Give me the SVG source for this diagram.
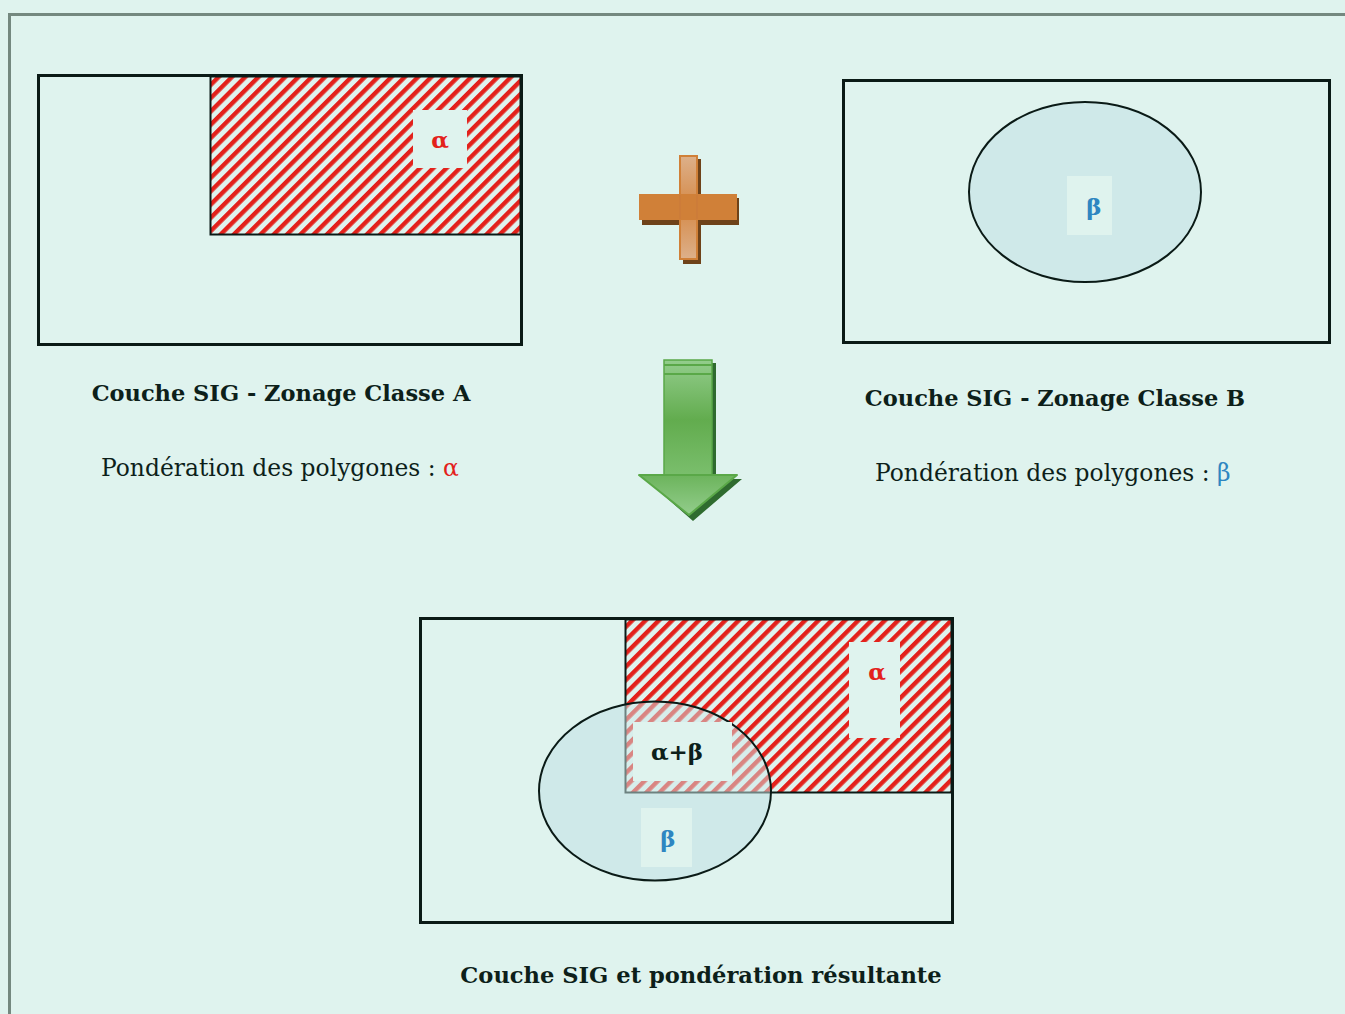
<svg xmlns="http://www.w3.org/2000/svg" width="1345" height="1014" viewBox="0 0 1345 1014">
<defs>
<pattern id="hatch" patternUnits="userSpaceOnUse" width="9.4" height="9.4" patternTransform="rotate(45)">
<rect width="9.4" height="9.4" fill="#dff3ee"/>
<rect x="0" y="0" width="4.4" height="9.4" fill="#e3211b"/>
</pattern>
<linearGradient id="gShaft" x1="0" y1="0" x2="0" y2="1">
<stop offset="0" stop-color="#93cd8c"/>
<stop offset="0.5" stop-color="#62ac4e"/>
<stop offset="1" stop-color="#7cc06f"/>
</linearGradient>
<linearGradient id="gHead" x1="0" y1="0" x2="0" y2="1">
<stop offset="0" stop-color="#6cb45c"/>
<stop offset="1" stop-color="#93cd8c"/>
</linearGradient>
<linearGradient id="oVert" x1="0" y1="0" x2="0" y2="1">
<stop offset="0" stop-color="#ddb08a"/>
<stop offset="0.5" stop-color="#d58a48"/>
<stop offset="1" stop-color="#ddb08a"/>
</linearGradient>
</defs>
<style>
.frame{fill:none;stroke:#0a1a16;stroke-width:3}
.lbl{fill:#dff3ee}
.ell{fill:#cfe9e9;stroke:#0a1a16;stroke-width:2}
.t{font-family:"DejaVu Serif","Liberation Serif",serif;fill:#0d1f1a}
.b{font-weight:bold}
.red{fill:#e3211b}
.blue{fill:#2e86c1}
</style>
<rect width="1345" height="1014" fill="#dff3ee"/>
<rect x="9.5" y="14.5" width="1345" height="1010" fill="none" stroke="#74887f" stroke-width="3"/>

<g id="layerA">
<rect x="38.5" y="75.5" width="483" height="269" class="frame"/>
<rect x="210.5" y="76.5" width="310" height="158" fill="url(#hatch)" stroke="#0a1a16" stroke-width="2"/>
<rect x="413" y="110" width="54" height="58" class="lbl"/>
<text x="440" y="148" class="t b red" font-size="23" text-anchor="middle">α</text>
</g>

<g id="plus">
<rect x="683" y="159" width="18" height="105" fill="#6e4219"/>
<rect x="642" y="198" width="97" height="27" fill="#6e4219"/>
<rect x="680" y="156" width="17" height="103" fill="url(#oVert)" stroke="#d08038" stroke-width="2"/>
<rect x="639" y="194" width="98" height="26" fill="#d08038"/>
<line x1="680" y1="195" x2="680" y2="219" stroke="#c9783a" stroke-width="1"/>
<line x1="697" y1="195" x2="697" y2="219" stroke="#c9783a" stroke-width="1"/>
</g>

<g id="layerB">
<rect x="843.5" y="80.5" width="486" height="262" class="frame"/>
<ellipse cx="1085" cy="192" rx="116" ry="90" class="ell"/>
<rect x="1067" y="176" width="45" height="59" class="lbl"/>
<text x="1094" y="215" class="t b blue" font-size="23" text-anchor="middle">β</text>
</g>

<g id="arrow">
<path d="M668 363 H716 V479 H742 L693 521 L645 479 H668 Z" fill="#2f6b2f"/>
<rect x="664" y="360" width="48" height="120" fill="url(#gShaft)" stroke="#5aa848" stroke-width="1.5"/>
<line x1="664" y1="365" x2="712" y2="365" stroke="#5aa848" stroke-width="2"/>
<line x1="664" y1="374" x2="712" y2="374" stroke="#5aa848" stroke-width="2"/>
<path d="M639 475 H737 L689 515 Z" fill="url(#gHead)" stroke="#5aa848" stroke-width="2" stroke-linejoin="round"/>
</g>

<g id="texts">
<text x="281" y="401" class="t b" font-size="22.5" text-anchor="middle">Couche SIG - Zonage Classe A</text>
<text x="101" y="476" class="t" font-size="23.4">Pondération des polygones : <tspan class="red">α</tspan></text>
<text x="1055" y="406" class="t b" font-size="22.5" text-anchor="middle">Couche SIG - Zonage Classe B</text>
<text x="875" y="481" class="t" font-size="23.4">Pondération des polygones : <tspan class="blue">β</tspan></text>
<text x="701" y="983" class="t b" font-size="22.6" text-anchor="middle">Couche SIG et pondération résultante</text>
</g>

<g id="result">
<rect x="420.5" y="618.5" width="532" height="304" class="frame"/>
<ellipse cx="655" cy="791" rx="116" ry="89.5" fill="#cfe9e9"/>
<rect x="625.5" y="619.5" width="326" height="173" fill="url(#hatch)" stroke="#0a1a16" stroke-width="2"/>
<rect x="849" y="642" width="51" height="96" class="lbl"/>
<text x="877" y="680" class="t b red" font-size="23" text-anchor="middle">α</text>
<ellipse cx="655" cy="791" rx="116" ry="89.5" fill="#cfe9e9" fill-opacity="0.5" stroke="#0a1a16" stroke-width="2"/>
<rect x="633" y="722" width="99" height="59" class="lbl"/>
<text x="677" y="760" class="t b" font-size="23" text-anchor="middle">α+β</text>
<rect x="641" y="808" width="51" height="59" class="lbl"/>
<text x="668" y="847" class="t b blue" font-size="23" text-anchor="middle">β</text>
</g>
</svg>
